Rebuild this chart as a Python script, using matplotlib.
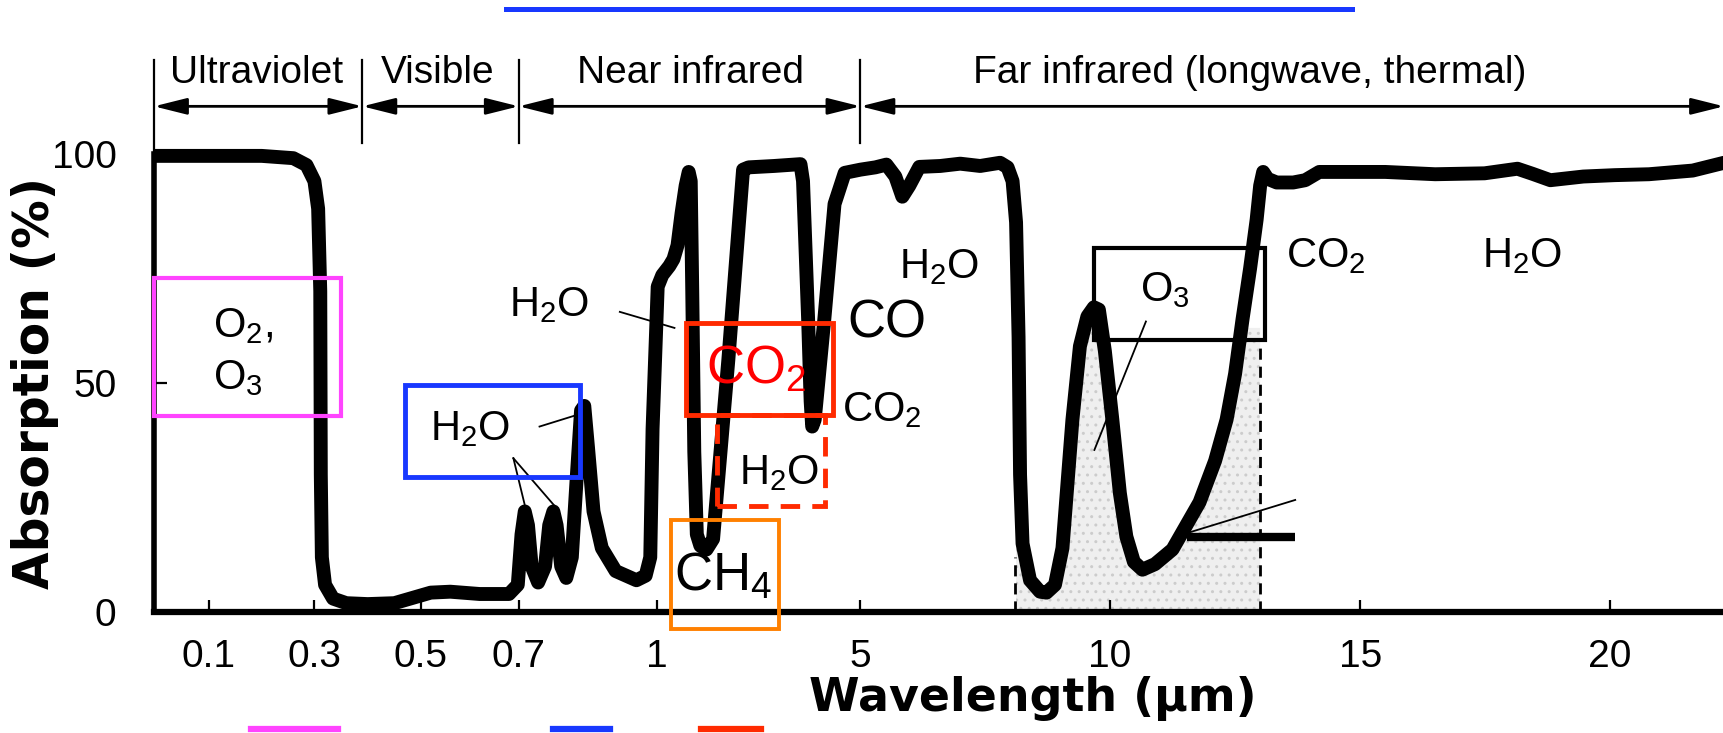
import numpy as np
import matplotlib.pyplot as plt
from matplotlib.lines import Line2D
from matplotlib.patches import Rectangle

plt.rcParams['font.family'] = ['Liberation Sans', 'DejaVu Sans']
plt.rcParams['mathtext.default'] = 'regular'

# atmospheric absorption spectrum (um, %)
wavelength = np.array([
    0.0, 0.1, 0.2, 0.26, 0.285, 0.300, 0.307, 0.311, 0.312, 0.314, 0.320,
    0.335, 0.36, 0.40, 0.45, 0.48, 0.52, 0.56, 0.62, 0.68, 0.698,
    0.706, 0.713, 0.720, 0.728, 0.742, 0.757, 0.766, 0.775, 0.782, 0.792,
    0.803, 0.815, 0.826, 0.835, 0.842, 0.850, 0.862, 0.880, 0.91, 0.955,
    0.975, 0.985, 0.99, 1.01, 1.1, 1.24, 1.32, 1.40, 1.48, 1.56, 1.62,
    1.66, 1.69, 1.73, 1.78, 1.85, 1.97, 2.1, 2.4, 2.69, 2.8, 3.3, 3.82,
    3.87, 3.97, 4.02, 4.05, 4.1, 4.16, 4.29, 4.49, 4.69, 5.0, 5.3, 5.52,
    5.7, 5.84, 5.98, 6.18, 6.6, 7.0, 7.4, 7.8, 7.95, 8.05, 8.12, 8.17,
    8.2, 8.25, 8.4, 8.6, 8.73, 8.9, 9.05, 9.25, 9.4, 9.55, 9.68, 9.78,
    9.9, 10.05, 10.2, 10.33, 10.48, 10.65, 10.9, 11.25, 11.79, 12.1,
    12.33, 12.5, 12.65, 12.8, 12.93, 13.0, 13.06, 13.15, 13.33, 13.66,
    13.9, 14.18, 15.5, 16.5, 17.49, 18.15, 18.45, 18.81, 19.47, 20.1,
    20.79, 21.67, 22.3])
absorption = np.array([
    99.5, 99.5, 99.5, 99, 97.5, 94, 88, 70, 30, 12, 6,
    3, 2, 1.8, 2, 3, 4.3, 4.5, 4, 4, 6,
    17, 22, 19, 10, 6.5, 10, 19, 22, 19, 10,
    7.5, 12, 30, 44, 45, 36, 22, 14, 9, 7,
    8, 12, 40, 71, 73.5, 75.5, 77, 80, 87, 93, 96,
    94, 70, 35, 17, 14.5, 13.7, 16, 55, 96.5, 97, 97.3, 97.7,
    94, 64, 46, 40.5, 42, 49, 64, 89, 95.8, 96.5, 97, 97.6,
    95, 90.6, 93, 97.1, 97.3, 97.8, 97.3, 98, 97, 94, 85, 60,
    30, 15, 7, 4.5, 4.3, 6, 14, 42, 58, 64.5, 66.5, 66,
    57, 42, 26, 16.5, 11, 9.3, 10.5, 13.7, 24, 33,
    42, 52, 64, 75, 85.6, 93, 96, 94.5, 93.7, 93.7,
    94.2, 96, 96, 95.5, 95.7, 96.7, 95.6, 94.2, 95, 95.3,
    95.5, 96.3, 98])

# the wavelength axis of the original is stretched below 1 um; calibrated on its ticks
scale_um = [0, 0.1, 0.3, 0.5, 0.7, 1, 5, 10, 15, 20, 22.3]
scale_pos = [140, 190, 286, 383, 472, 598, 783, 1010, 1238, 1465, 1569]

xticks = [0.1, 0.3, 0.5, 0.7, 1, 5, 10, 15, 20]
xticklabels = ['0.1', '0.3', '0.5', '0.7', '1', '5', '10', '15', '20']
yticks = [0, 50, 100]

bands = ['Ultraviolet', 'Visible', 'Near infrared', 'Far infrared (longwave, thermal)']
band_edges = [0, 0.39, 0.7, 5.0, 22.3]
band_label_x = [0.19, 0.535, 1.65, 12.8]

# gas labels: text, x (um), y (%), size, colour, alignment
gas_text = ['O$_2$,', 'O$_3$', 'H$_2$O', 'H$_2$O', 'CO', 'CO$_2$', 'CO$_2$',
            'H$_2$O', 'CH$_4$', 'H$_2$O', 'O$_3$', 'CO$_2$', 'H$_2$O']
gas_x = [0.108, 0.108, 0.518, 0.68, 4.75, 2.95, 4.63, 3.4, 2.29, 5.77, 11.09, 13.52, 17.44]
gas_y = [62.5, 51, 40, 67, 63, 52.9, 44, 30.4, 7.8, 75.3, 70.3, 77.7, 77.7]
gas_size = [30, 30, 30, 30, 38, 38, 30, 30, 38, 30, 30, 30, 30]
gas_color = ['black'] * 5 + ['#ff0000'] + ['black'] * 7
gas_ha = ['left', 'left', 'left', 'left', 'left', 'center', 'left', 'center',
          'center', 'left', 'center', 'left', 'left']

# highlight boxes: x0, x1 (um), y0, y1 (%), colour, style
box_x0 = [0.0, 0.47, 1.57, 2.18, 1.28, 9.69]
box_x1 = [0.35, 0.833, 4.46, 4.31, 3.4, 13.09]
box_y0 = [42.9, 29.5, 43.0, 23.1, -3.7, 59.4]
box_y1 = [72.9, 49.6, 63.1, 43.0, 20.1, 79.4]
box_color = ['#ff44ff', '#1838ff', '#ff2a00', '#ff2a00', '#ff8000', 'black']
box_style = ['-', '-', '-', '--', '-', '-']
box_lw = [3, 3.5, 3.5, 3.5, 2.8, 3]

# thin leader lines: (x0, y0, x1, y1)
leaders = [(0.919, 65.5, 1.34, 62), (0.745, 40.5, 0.825, 43),
           (0.689, 33.6, 0.714, 23), (0.689, 33.6, 0.776, 23.4),
           (10.72, 63.4, 9.69, 35.4), (11.55, 17.3, 13.7, 24.5)]


def fwd(x):
    return np.interp(x, scale_um, scale_pos)


def inv(p):
    return np.interp(p, scale_pos, scale_um)


fig = plt.figure(figsize=(17.24, 7.33), dpi=100)
ax = fig.add_axes([154 / 1724, 0.1646, 1 - 154 / 1724, 0.997 - 0.1646])
ax.set_xscale('function', functions=(fwd, inv))
ax.set_xlim(0, 22.3)
ax.set_ylim(0, 133)

# stippled window 8-13 um
win = (wavelength >= 8.1) & (wavelength <= 13.0)
ax.fill_between(wavelength[win], 0, np.minimum(absorption[win], 62),
                facecolor='#efefef', edgecolor='#cccccc', hatch='..', linewidth=0, zorder=1)
ax.plot([13.0, 13.0], [0, 59.4], ls=(0, (4, 2.5)), color='black', lw=2, zorder=2)
ax.plot([8.09, 8.09], [0, 12], ls=(0, (4, 2.5)), color='black', lw=2, zorder=2)

ax.plot(wavelength, absorption, color='black', lw=10, solid_joinstyle='round',
        solid_capstyle='round', zorder=3)

for x0, y0, x1, y1 in leaders:
    ax.plot([x0, x1], [y0, y1], color='black', lw=1.3, zorder=4)
ax.plot([11.55, 13.7], [16.5, 16.5], color='black', lw=6, solid_capstyle='butt', zorder=4)

for x0, x1, y0, y1, c, s, lw in zip(box_x0, box_x1, box_y0, box_y1, box_color, box_style, box_lw):
    ax.add_patch(Rectangle((x0, y0), x1 - x0, y1 - y0, fill=False, edgecolor=c,
                           linestyle=s if s == '-' else (0, (4, 2.5)), lw=lw,
                           clip_on=False, zorder=5))

for t, x, y, s, c, ha in zip(gas_text, gas_x, gas_y, gas_size, gas_color, gas_ha):
    ax.text(x, y, t, fontsize=s, color=c, ha=ha, va='center', zorder=6)

# spectral bands along the top
for e in band_edges[1:-1]:
    ax.plot([e, e], [102.4, 120.4], color='black', lw=1.6, clip_on=False)
ax.plot([0, 0], [100, 120.4], color='black', lw=1.6, clip_on=False)
for name, lx, a, b in zip(bands, band_label_x, band_edges[:-1], band_edges[1:]):
    ax.annotate('', xy=(b, 110.3), xytext=(a, 110.3),
                arrowprops=dict(arrowstyle='<|-|>,head_length=1.0,head_width=0.25',
                                mutation_scale=20, lw=2, color='black',
                                shrinkA=0, shrinkB=0), annotation_clip=False)
    ax.text(lx, 117.5, name, fontsize=28, ha='center', va='center')

ax.spines['top'].set_visible(False)
ax.spines['right'].set_visible(False)
ax.spines['left'].set_bounds(0, 100)
ax.spines['left'].set_linewidth(4)
ax.spines['bottom'].set_linewidth(4.5)

ax.set_xticks(xticks, xticklabels)
ax.set_yticks(yticks)
ax.tick_params(axis='both', direction='in', length=9, width=1.6, labelsize=28)
ax.tick_params(axis='x', pad=19)
ax.tick_params(axis='y', pad=27)
ax.minorticks_off()

ax.set_xlabel('Wavelength (µm)', fontsize=33, fontweight='bold', family='DejaVu Sans')
ax.xaxis.set_label_coords(0.56, -0.142)
ax.xaxis.label.set_va('center')
ax.set_ylabel('Absorption (%)', fontsize=35, fontweight='bold', family='DejaVu Sans')
ax.yaxis.set_label_coords(-0.076, 0.376)
ax.yaxis.label.set_va('center')

# slide decorations: blue rule on top, colour keys at the bottom
fig.add_artist(Line2D([0.2934, 0.7844], [0.988, 0.988], color='#1838ff', lw=3.6))
for x0, x1, c in [(0.1454, 0.1958, '#ff44ff'), (0.3208, 0.354, '#1838ff'), (0.4069, 0.4413, '#ff2a00')]:
    fig.add_artist(Line2D([x0, x1], [0.006, 0.006], color=c, lw=4.5))

fig.savefig('out.png', dpi=100)
